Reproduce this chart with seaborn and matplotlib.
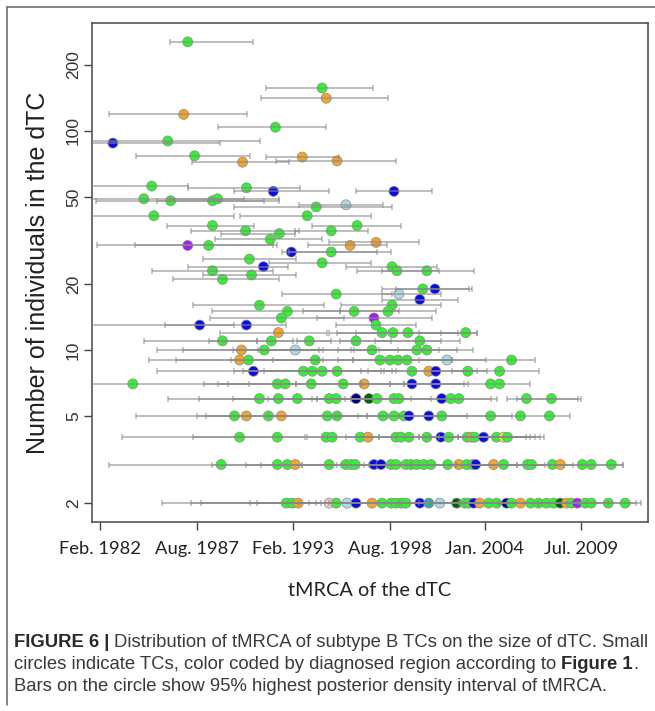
import matplotlib
matplotlib.use("Agg")
import matplotlib.pyplot as plt
import seaborn as sns
import pandas as pd
import numpy as np
from matplotlib.lines import Line2D


# region colour code of each TC (as in Figure 1)
REGION_COLORS = {"G": "#33f033", "O": "#f5a42a", "B": "#0b0be8", "L": "#add8e6",
                 "P": "#a020f0", "D": "#006400", "N": "#000080", "T": "#20b2aa",
                 "K": "#f0c8c8", "Y": "#e8e840"}

# larger dTCs, one interval each
top_year = [1987.10, 1994.75, 1994.98, 1986.87, 1992.09, 1982.84, 1985.96, 1987.49, 1993.62,
            1990.22, 1995.60, 1985.05, 1990.44, 1991.97, 1998.84, 1984.60, 1986.13, 1988.51,
            1988.80, 1994.41, 1996.11, 1985.17, 1993.90, 1988.51, 1996.74, 1990.39, 1992.31,
            1995.27, 1991.80, 1996.34, 1997.82, 1987.10, 1988.29, 1993.00, 1995.27, 1990.61,
            1994.75, 1991.41, 1988.51, 1998.73, 1999.01, 2000.71, 1990.73, 1989.08, 1995.55,
            1999.12, 2000.48, 2001.17, 2000.31, 1991.18, 1992.77, 1996.57, 1998.73, 1998.50,
            1992.43, 1997.70, 1997.82, 1987.78, 1990.44, 1992.26, 1998.16, 1998.78, 1999.63,
            2002.92]
top_size = [255, 157, 141, 119, 104, 88, 90, 77, 76,
            72, 73, 56, 55, 53, 53, 49, 48, 48,
            49, 45, 46, 41, 41, 37, 37, 35, 34,
            35, 32, 30, 31, 30, 30, 28, 28, 26,
            25, 24, 23, 24, 23, 23, 22, 21, 18,
            18, 19, 19, 17, 16, 15, 15, 16, 15,
            14, 14, 13, 13, 13, 12, 12, 12, 12,
            12]
top_lo = [1986.07, 1991.58, 1991.29, 1982.61, 1988.85, 1980.00, 1980.80, 1984.15, 1991.58,
          1987.32, 1992.14, 1981.00, 1987.10, 1989.76, 1996.68, 1981.20, 1981.88, 1985.34,
          1986.07, 1989.76, 1993.45, 1980.90, 1990.05, 1985.90, 1994.19, 1987.27, 1989.02,
          1993.22, 1988.68, 1993.96, 1995.15, 1981.93, 1984.09, 1992.48, 1992.88, 1987.95,
          1991.75, 1987.10, 1985.05, 1996.11, 1996.74, 1998.16, 1987.95, 1986.24, 1992.48,
          1998.16, 1998.16, 1998.95, 1998.16, 1987.38, 1988.46, 1993.68, 1995.83, 1995.78,
          1988.34, 1994.47, 1995.55, 1980.80, 1985.79, 1988.91, 1995.15, 1995.60, 1996.68,
          2000.26]
top_hi = [1990.84, 1997.65, 1998.50, 1990.50, 1994.98, 1988.91, 1991.24, 1990.67, 1995.72,
          1992.88, 1998.95, 1987.10, 1993.51, 1995.15, 2000.99, 1990.33, 1991.46, 1992.31,
          1992.31, 1998.73, 1998.21, 1989.76, 1997.53, 1990.90, 1999.24, 1993.45, 1993.22,
          1997.36, 1994.75, 1998.44, 2000.26, 1991.97, 1992.20, 1997.87, 1998.67, 1993.28,
          1997.53, 1992.80, 1991.97, 2001.28, 2001.39, 2003.38, 1993.28, 1992.31, 1998.73,
          2001.51, 2003.26, 2003.09, 2002.47, 1994.86, 1995.78, 1999.12, 2001.51, 2001.22,
          1996.00, 2000.99, 2000.09, 1989.71, 1992.71, 1995.04, 2001.51, 2002.47, 2003.55,
          2003.55]
top_region = list("GGOOGBGGOO" "OGGBBGGGGG" "LGGGGGGGGO" "OPGBGGGBGG"
                  "GGGGGLGBBG" "GGGGGPGBBO" "GGGG")

# small dTCs: many TCs per size, intervals overlap into one long bar
row_sizes = [11, 10, 9, 8, 7, 6, 5, 4, 3, 2]
row_years = [
    [1989.08, 1991.86, 1994.02, 1996.68, 2000.31],
    [1990.16, 1991.46, 1993.22, 1997.59, 2000.14, 2000.71],
    [1990.05, 1990.56, 1994.36, 1998.04, 1998.61, 1999.07, 1999.58, 2001.85, 2005.53],
    [1990.84, 1993.68, 1994.19, 1994.75, 1995.60, 1999.86, 2000.82, 2001.22, 2003.04, 2004.85],
    [1983.97, 1992.20, 1992.65, 1994.13, 1995.95, 1997.14, 1999.86, 2001.22, 2004.34, 2004.85],
    [1991.18, 1992.26, 1993.34, 1995.15, 1995.55, 1996.68, 1997.42, 1997.87, 1998.84, 1999.12,
     2001.56, 2002.07, 2002.53, 2006.38, 2007.80],
    [1989.76, 1990.44, 1991.69, 1992.43, 1995.04, 1995.60, 1998.21, 1998.84, 1999.41, 1999.69,
     2000.82, 2001.56, 2004.34, 2006.04, 2007.69],
    [1990.05, 1992.20, 1994.98, 1995.32, 1996.91, 1997.36, 1998.95, 1999.24, 1999.69, 2000.71,
     2001.51, 2001.96, 2003.01, 2003.26, 2003.43, 2003.94, 2004.68, 2005.08, 2005.30],
    [1989.00, 1992.20, 1992.77, 1993.22, 1995.15, 1996.11, 1996.40, 1996.63, 1997.70, 1998.10,
     1998.67, 1998.95, 1999.52, 1999.80, 2000.14, 2000.54, 2000.94, 2001.90, 2002.53, 2002.98,
     2003.32, 2003.49, 2004.51, 2005.08, 2006.44, 2006.67, 2007.86, 2008.31, 2009.56, 2010.07,
     2011.21],
    [1992.71, 1993.05, 1993.39, 1995.15, 1995.55, 1996.17, 1996.68, 1997.59, 1998.16, 1998.67,
     1998.95, 1999.24, 1999.52, 2000.31, 2000.82, 2001.45, 2002.41, 2002.87, 2003.09, 2003.38,
     2003.72, 2004.23, 2004.68, 2005.25, 2005.53, 2006.04, 2006.61, 2007.06, 2007.52, 2007.92,
     2008.31, 2008.66, 2008.94, 2009.28, 2009.73, 2010.07, 2011.04, 2012.00],
]
row_regions = [
    "GGGGG",
    "OGLGGG",
    "OGGGGGGLG",
    "BGGGGGOBGG",
    "GGGGGOBBGG",
    "GGGGGNDGGGBGGGG",
    "GOGOGGGGGBBGGGG",
    "GGGGGOGGGGBGGOGBGYG",
    "GGGOGGGGBBGGGGGGGGOGGBOGGGGOGGG",
    "GGOKGLBOGGGGGBTLDGGBOGGNGOGGGGDOGPGGGG",
]
row_bars = [
    [(1984.60, 1991.07), (1988.29, 1993.11), (1991.07, 1995.27), (1993.34, 1998.67),
     (1995.78, 2001.51), (1997.76, 2002.58)],
    [(1985.34, 1994.81), (1986.81, 1994.58), (1989.65, 1996.57), (1991.12, 1999.07),
     (1995.66, 2001.39), (1996.40, 2002.41), (1997.99, 2003.32)],
    [(1984.88, 1994.81), (1986.41, 1994.53), (1989.59, 1996.51), (1991.97, 2002.13),
     (1995.66, 2004.06), (1996.51, 2002.13), (2000.26, 2006.84)],
    [(1985.34, 1998.27), (1989.71, 1996.97), (1990.27, 1998.73), (1991.46, 1998.95),
     (1997.36, 2003.55), (1998.10, 2004.11), (2002.13, 2007.12)],
    [(1980.50, 1990.56), (1988.00, 1993.28), (1988.85, 1996.97), (1989.42, 1998.61),
     (1993.28, 1999.41), (1996.97, 2002.81), (1998.61, 2003.04), (1999.41, 2006.61)],
    [(1985.96, 1994.47), (1987.72, 1996.06), (1989.65, 1996.40), (1991.69, 1999.80),
     (1994.19, 2000.94), (1994.47, 2004.34), (1996.40, 2004.68), (2005.25, 2009.50),
     (2005.82, 2009.33)],
    [(1984.15, 1995.66), (1987.61, 1996.80), (1988.12, 1997.31), (1991.69, 1998.50),
     (1995.49, 2002.98), (1997.31, 2005.53), (1999.12, 2008.88)],
    [(1983.35, 1993.79), (1987.38, 1997.99), (1993.90, 2000.26), (1996.11, 2002.47),
     (1997.99, 2006.33), (2000.26, 2006.61), (2000.82, 2006.89), (2001.39, 2007.18),
     (2002.47, 2007.40)],
    [(1982.61, 1993.62), (1988.46, 1995.60), (1990.44, 1997.14), (1991.29, 1999.80),
     (1993.62, 2002.36), (1995.83, 2003.20), (1997.42, 2005.87), (1999.80, 2007.46),
     (2002.36, 2009.05), (2003.20, 2011.89), (2005.87, 2011.89)],
    [(1985.62, 1994.02), (1987.27, 1994.41), (1987.84, 1994.70), (1990.67, 1999.12),
     (1991.07, 2000.82), (1993.45, 2002.53), (1995.15, 2004.80), (1997.99, 2007.06),
     (2000.26, 2009.33), (2002.53, 2011.04), (2004.80, 2012.62), (2007.06, 2012.91)],
]

y_ticks = [2, 5, 10, 20, 50, 100, 200]
x_ticks = [1982.1, 1987.6, 1993.1, 1998.6, 2004.0, 2009.5]
x_tick_labels = ["Feb. 1982", "Aug. 1987", "Feb. 1993", "Aug. 1998", "Jan. 2004", "Jul. 2009"]


# build long tables of points and intervals
tc_df = pd.DataFrame({"tmrca": top_year, "size": top_size, "region": top_region})
bar_df = pd.DataFrame({"size": top_size, "lo": top_lo, "hi": top_hi})
for size, years, regions, bars in zip(row_sizes, row_years, row_regions, row_bars):
    tc_df = pd.concat([tc_df, pd.DataFrame({"tmrca": years, "size": size, "region": list(regions)})])
    bar_df = pd.concat([bar_df, pd.DataFrame({"size": size, "lo": [b[0] for b in bars],
                                              "hi": [b[1] for b in bars]})])
tc_df = tc_df.reset_index(drop=True)
bar_df = bar_df.reset_index(drop=True)


sns.set_style("white")
plt.rcParams["font.family"] = ["Liberation Sans", "DejaVu Sans"]

W, H = 655, 711
fig = plt.figure(figsize=(W / 100, H / 100), dpi=100)
ax = fig.add_axes([92 / W, 1 - 522 / H, 556 / W, 499 / H])

sns.scatterplot(data=tc_df, x="tmrca", y="size", hue="region", palette=REGION_COLORS,
                s=52, edgecolor="#8c8c8c", linewidth=0.5, legend=False, ax=ax, zorder=3)
ax.errorbar(bar_df["lo"], bar_df["size"], xerr=[np.zeros(len(bar_df)), bar_df["hi"] - bar_df["lo"]],
            fmt="none", ecolor="#888888", alpha=0.55, elinewidth=1.4, capsize=2.4,
            capthick=1.2, zorder=4)

ax.set_yscale("log")
ax.set_xlim(1981.65, 2013.3)
ax.set_ylim(1.64, 311)
ax.set_yticks(y_ticks)
ax.set_yticklabels([str(v) for v in y_ticks])
ax.yaxis.set_minor_locator(matplotlib.ticker.NullLocator())
ax.set_xticks(x_ticks)
ax.set_xticklabels(x_tick_labels, fontfamily=["Lato", "DejaVu Sans"], fontsize=13.2, color="#222222")
ax.tick_params(axis="both", direction="out", length=6, width=1, color="#444444", bottom=True, left=True)
ax.tick_params(axis="x", pad=8)
ax.tick_params(axis="y", labelsize=12.5, labelcolor="#333333", pad=2)
for lab in ax.get_yticklabels():
    lab.set_rotation(90)
    lab.set_va("center")

for sp in ax.spines.values():
    sp.set_color("#555555")
    sp.set_linewidth(1.2)

ax.set_xlabel("tMRCA of the dTC", fontfamily=["Lato", "DejaVu Sans"], fontsize=14.3, color="#222222", va="center")
ax.xaxis.set_label_coords(0.5, -68 / 499)
ax.set_ylabel("Number of individuals in the dTC", fontsize=18, color="#222222", va="center")
ax.yaxis.set_label_coords(-54 / 556, 0.5)

# outer frame of the figure panel
fig.add_artist(Line2D([7 / W, 1], [1 - 7 / H, 1 - 7 / H], transform=fig.transFigure, color="#707070", lw=1.2))
fig.add_artist(Line2D([7 / W, 7 / W], [1 - 7 / H, 1 - 705 / H], transform=fig.transFigure, color="#707070", lw=1.2))

# caption with bold runs
caption = [
    [("FIGURE 6 |", "bold"), ("Distribution of tMRCA of subtype B TCs on the size of dTC. Small", "normal")],
    [("circles indicate TCs, color coded by diagnosed region according to", "normal"), ("Figure 1", "bold"), (".", "normal")],
    [("Bars on the circle show 95% highest posterior density interval of tMRCA.", "normal")],
]
cap_font = ["Liberation Sans Narrow", "Liberation Sans", "DejaVu Sans"]
cap_size = 13.3
renderer = fig.canvas.get_renderer()
probe = fig.text(0, 0, "a a", fontsize=cap_size, fontfamily=cap_font)
probe2 = fig.text(0, 0, "aa", fontsize=cap_size, fontfamily=cap_font)
space_w = probe.get_window_extent(renderer).width - probe2.get_window_extent(renderer).width
probe.remove()
probe2.remove()
for i, runs in enumerate(caption):
    x = 14.0
    y = 647 + 22 * i
    for j, (s, w) in enumerate(runs):
        if j > 0 and s != ".":
            x += space_w
        t = fig.text(x / W, 1 - y / H, s, fontsize=cap_size, fontweight=w, fontfamily=cap_font,
                     color="#2a2a2a" if w == "bold" else "#3a3a3a", va="baseline", ha="left")
        x += t.get_window_extent(renderer).width

fig.savefig("out.png", dpi=100)
